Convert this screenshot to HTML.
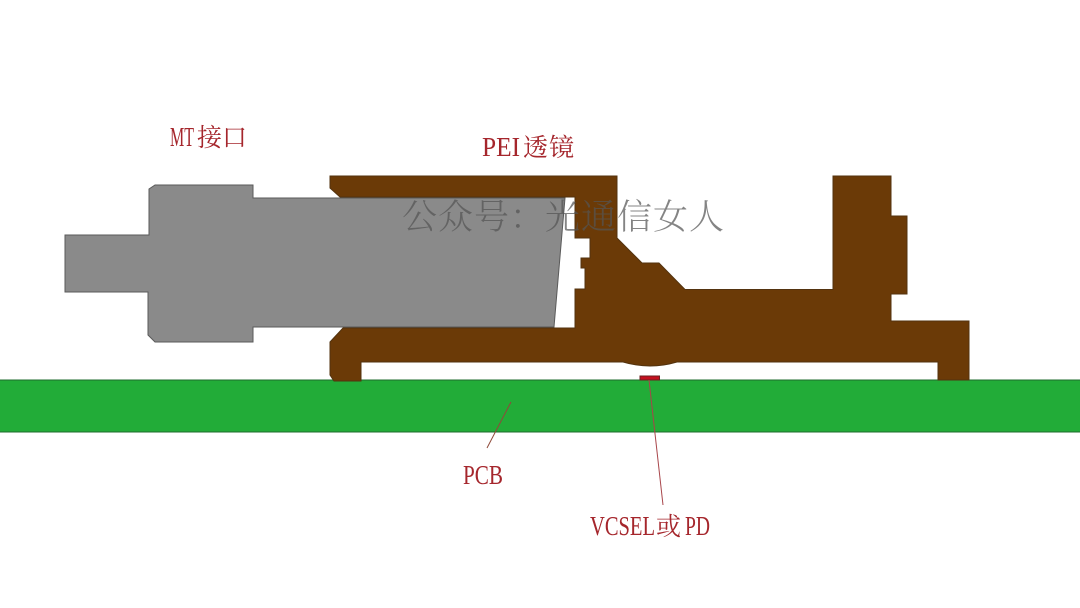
<!DOCTYPE html>
<html lang="zh">
<head>
<meta charset="utf-8">
<title>MT接口与PEI透镜结构图</title>
<style>
html,body{margin:0;padding:0;background:#fff;width:1080px;height:608px;overflow:hidden}
svg{display:block}
.cj{font-family:"Noto Serif CJK SC","Liberation Serif",serif;font-size:25px;fill:#a5262c}
.la{font-family:"Liberation Serif",serif;font-size:27px;fill:#a5262c}
.wm{font-family:"Noto Serif CJK SC","Liberation Serif",serif;font-size:35px;font-weight:300;fill:#555;fill-opacity:.72}
</style>
</head>
<body>
<svg width="1080" height="608" viewBox="0 0 1080 608" xmlns="http://www.w3.org/2000/svg">
<rect width="1080" height="608" fill="#fff"/>
<!-- PCB -->
<rect x="-2" y="380" width="1084" height="52" fill="#22ac38" stroke="#1f6b2c" stroke-width="1"/>
<!-- Lens body -->
<path d="M330 176H617V238L642 263H659L685 289.500H833V176H891V216H907V294H891V321H969V380H938V362H677Q650 370 623 362H361V381H334L330 375V342L343 328H575V289H585V268H581V258H590V238H575V197H340L330 188Z" fill="#6b3a07" stroke="#53330f" stroke-width="1"/>
<!-- MT connector -->
<path d="M65 235H149V189L155 185H253V198H565L554 327H253V342H155L148 335V292H65Z" fill="#8a8a8a" stroke="#5a5a5a" stroke-width="1"/>
<!-- Chip -->
<rect x="640" y="376" width="19.500" height="4" fill="#c4101f" stroke="#6d2020" stroke-width="1"/>
<!-- Leaders -->
<line x1="511" y1="402" x2="487" y2="448" stroke="#8f4a3a" stroke-width="1"/>
<line x1="649" y1="380" x2="663" y2="505" stroke="#a8454a" stroke-width="1"/>
<!-- Labels -->
<text class="la" x="170" y="146" textLength="24" lengthAdjust="spacingAndGlyphs">MT</text>
<text class="cj" y="146" x="197 222">接口</text>
<text class="la" x="482" y="156" textLength="38" lengthAdjust="spacingAndGlyphs">PEI</text>
<text class="cj" y="156" x="523 549">透镜</text>
<text class="la" x="463" y="484" textLength="40" lengthAdjust="spacingAndGlyphs">PCB</text>
<text class="la" x="590" y="535" textLength="65" lengthAdjust="spacingAndGlyphs">VCSEL</text>
<text class="cj" y="535" x="656">或</text>
<text class="la" x="685" y="535" textLength="25" lengthAdjust="spacingAndGlyphs">PD</text>
<!-- Watermark -->
<text class="wm" y="229" x="402 438 474 510 545 581 617 653 689">公众号：光通信女人</text>
</svg>
</body>
</html>
